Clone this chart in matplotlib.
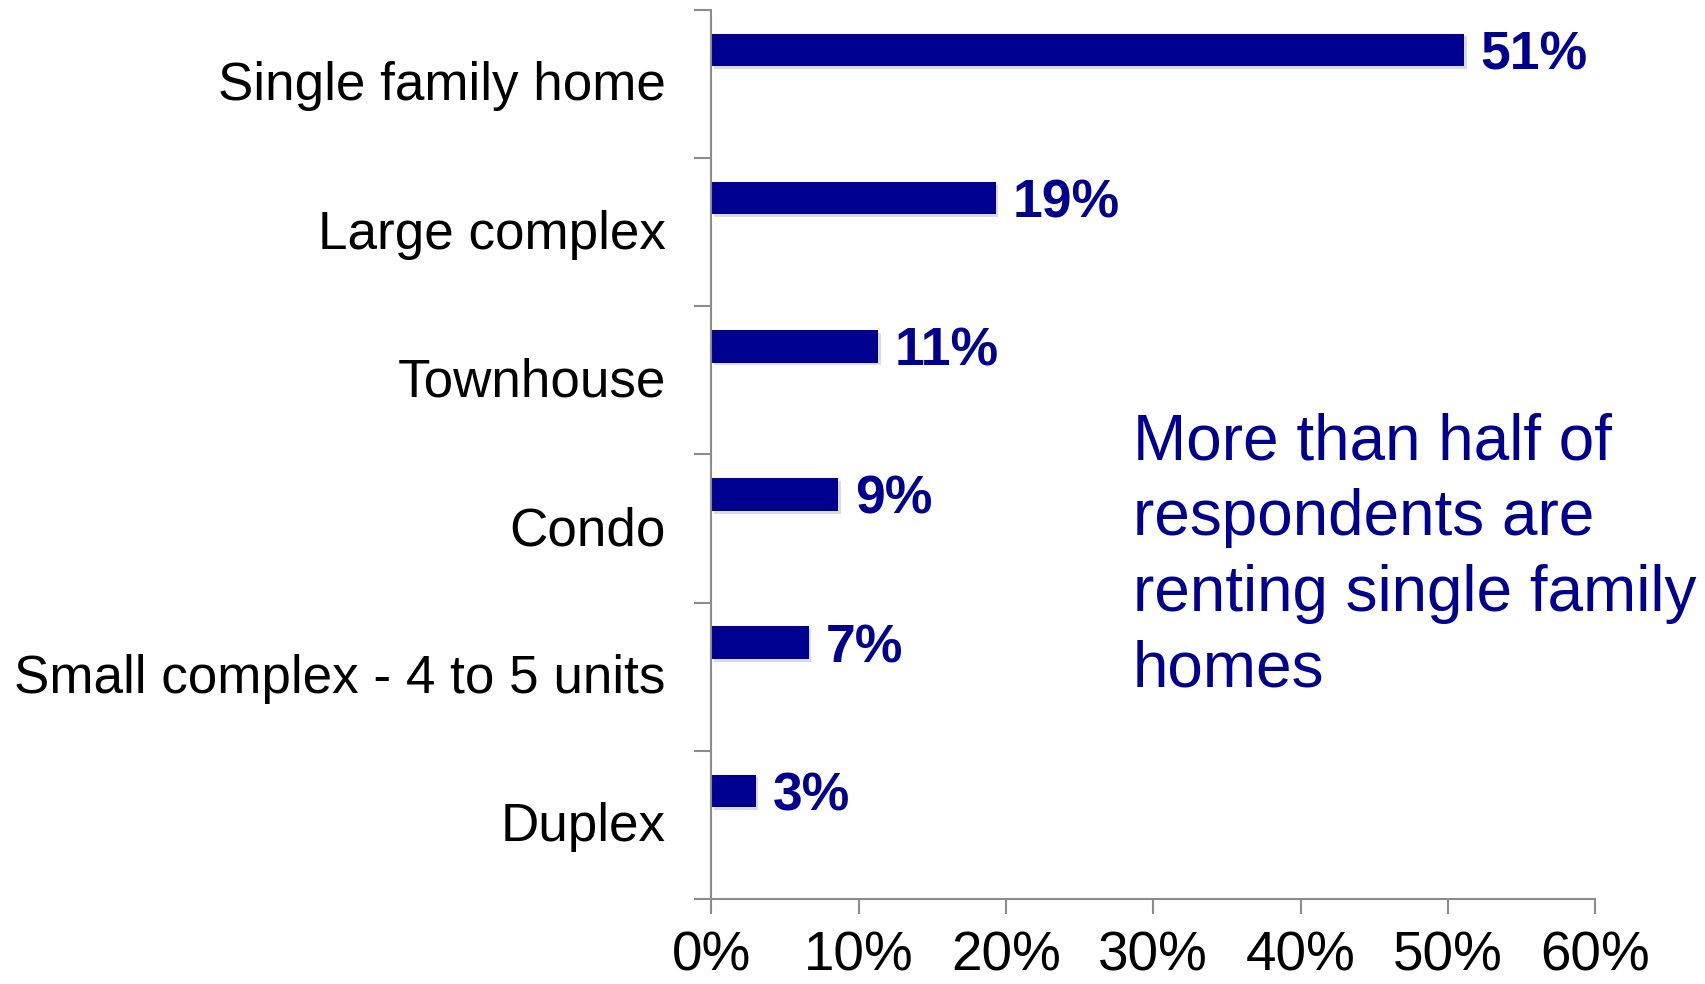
import matplotlib
matplotlib.use("Agg")
import matplotlib.pyplot as plt
import matplotlib.patheffects as pe
import numpy as np

categories = ["Single family home", "Large complex", "Townhouse", "Condo",
              "Small complex - 4 to 5 units", "Duplex"]
values = [51.1, 19.3, 11.3, 8.6, 6.6, 3.0]
value_labels = ["51%", "19%", "11%", "9%", "7%", "3%"]
xticks = [0, 10, 20, 30, 40, 50, 60]
xtick_labels = ["0%", "10%", "20%", "30%", "40%", "50%", "60%"]
note = "More than half of\nrespondents are\nrenting single family\nhomes"

navy = "#000090"
gray = "#8c8c8c"
plt.rcParams['font.family'] = ['Liberation Sans', 'DejaVu Sans']

fig = plt.figure(figsize=(17.05, 9.84), dpi=100)
ax = fig.add_axes([0.4173, 0.0864, 0.5182, 0.9036])

pos = np.arange(len(categories))
ybar = pos - 0.23
bars = ax.barh(ybar, values, height=0.22, color=navy,
               path_effects=[pe.SimplePatchShadow(offset=(2, -2), shadow_rgbFace='#999999', alpha=0.35), pe.Normal()])
for v, y, lab in zip(values, ybar, value_labels):
    ax.annotate(lab, xy=(v, y), xytext=(12, -4), textcoords='offset points',
                ha='left', va='center', fontsize=38.5, fontweight='bold', color=navy)

ax.set_ylim(len(categories) - 0.5, -0.5)
ax.set_xlim(0, 60)

ax.set_yticks(np.arange(len(categories) + 1) - 0.5)
ax.set_yticklabels([])
ax.set_yticks(pos - 0.02, minor=True)
ax.set_yticklabels(categories, minor=True, fontsize=38.2)
ax.tick_params(axis='y', which='minor', length=0, pad=33)
ax.tick_params(axis='y', which='major', length=12, width=1.5, color=gray, direction='out')

ax.set_xticks(xticks)
ax.set_xticklabels(xtick_labels, fontsize=39.5)
ax.tick_params(axis='x', length=11, width=1.5, color=gray, direction='out', pad=12)

for s in ['top', 'right']:
    ax.spines[s].set_visible(False)
for s in ['left', 'bottom']:
    ax.spines[s].set_color(gray)
    ax.spines[s].set_linewidth(1.5)

fig.text(1133 / 1705, 1 - 556 / 984, note, fontsize=46, color=navy,
         ha='left', va='center', linespacing=1.33)
fig.savefig("out.png", dpi=100)
